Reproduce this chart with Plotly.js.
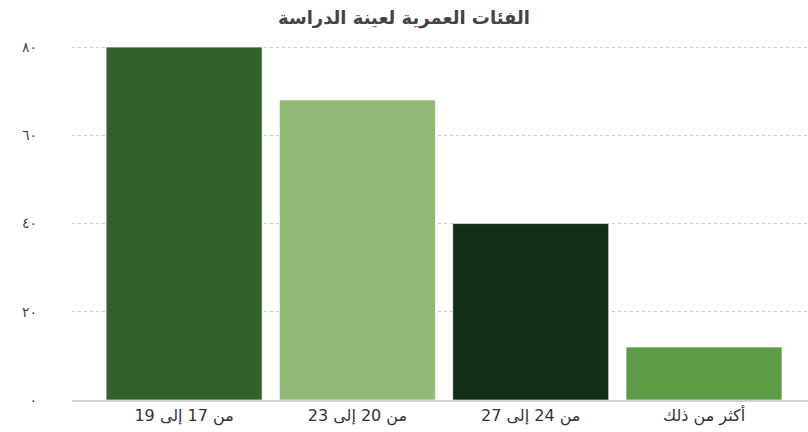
<!DOCTYPE html>
<html><head><meta charset="utf-8">
<script src="https://cdn.plot.ly/plotly-3.0.1.min.js"></script>
<style>body{margin:0;background:#fff}#c{width:808px;height:432px}</style>
</head><body><div id="c"></div>
<script>
const categories = ["من 17 إلى 19", "من 20 إلى 23", "من 24 إلى 27", "أكثر من ذلك"];
const values = [80, 68, 40, 12];
const barColors = ["#33612d", "#93b978", "#132e16", "#5e9b46"];
const yTickVals = [0, 20, 40, 60, 80];
const yTickText = ["٠", "٢٠", "٤٠", "٦٠", "٨٠"];

Plotly.newPlot("c", [{
  type: "bar",
  x: categories,
  y: values,
  width: 0.9,
  marker: {color: barColors, line: {color: "rgba(255,255,255,0.6)", width: 1}},
  hoverinfo: "none"
}], {
  width: 808, height: 432,
  margin: {l: 72, r: 0, t: 46, b: 32},
  paper_bgcolor: "#fff", plot_bgcolor: "#fff",
  font: {family: "DejaVu Sans", color: "#333", size: 13},
  title: {text: "<b>الفئات العمرية لعينة الدراسة</b>", x: 0.5, xanchor: "center", y: 0.96, yanchor: "middle",
          font: {family: "DejaVu Sans", size: 18, color: "#444"}},
  xaxis: {type: "category", range: [-0.647, 3.6], showgrid: false, showline: true, linecolor: "#d0d0d0", linewidth: 2,
          ticks: "", tickfont: {size: 16, color: "#333"}, fixedrange: true},
  yaxis: {range: [0, 80.25], tickvals: yTickVals, ticktext: yTickText, showgrid: true, gridcolor: "#cccccc",
          griddash: "dot", zeroline: false, ticks: "", ticklabelstandoff: 34, tickfont: {size: 14, color: "#444"}}
}, {displayModeBar: false, staticPlot: true});
</script></body></html>
